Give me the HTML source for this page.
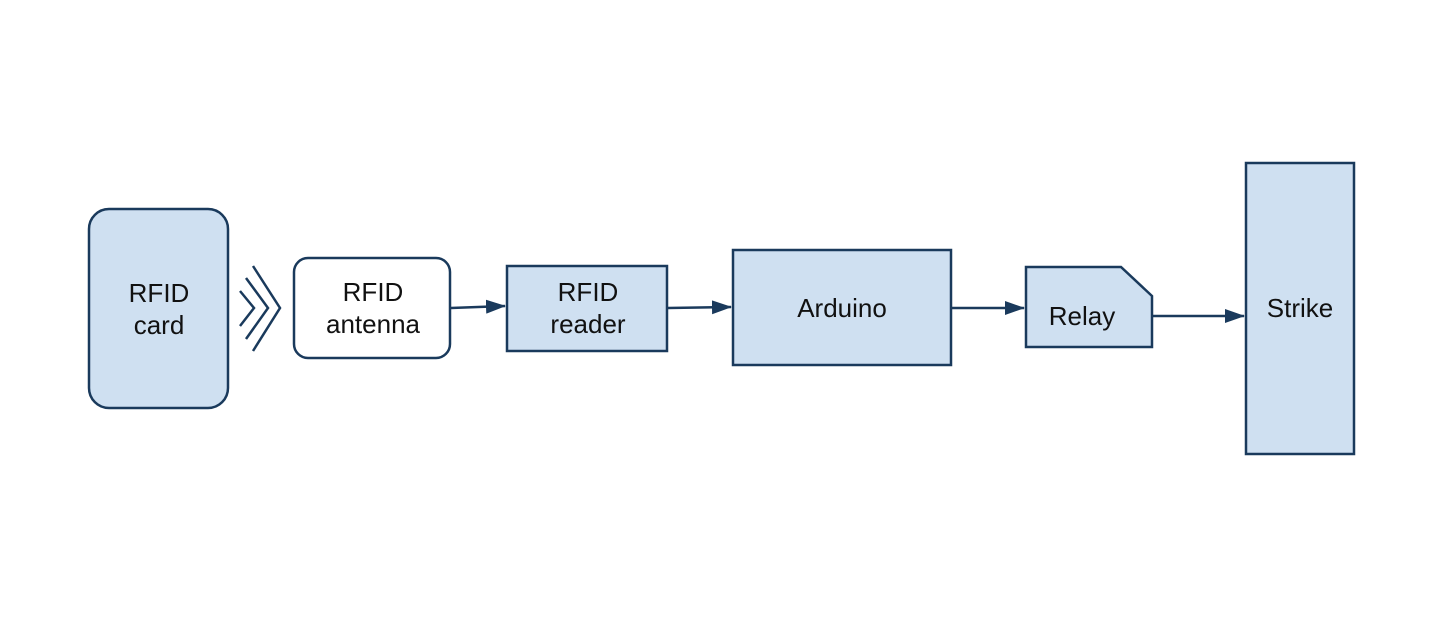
<!DOCTYPE html>
<html><head><meta charset="utf-8"><style>html,body{margin:0;padding:0;background:#fff}</style></head>
<body>
<svg width="1446" height="617" viewBox="0 0 1446 617" xmlns="http://www.w3.org/2000/svg">
<defs><marker id="b" markerWidth="20" markerHeight="14" refX="19" refY="7" orient="auto" markerUnits="userSpaceOnUse"><path d="M0,0 L20,7 L0,14 Z" fill="#1a3a5c"/></marker></defs>
<g stroke="#1a3a5c" stroke-width="2.5" fill="#cfe0f1">
<rect x="89" y="209" width="139" height="199" rx="20"/>
<rect x="294" y="258" width="156" height="100" rx="14" fill="#fff"/>
<rect x="507" y="266" width="160" height="85"/>
<rect x="733" y="250" width="218" height="115"/>
<path d="M1026,267 L1121,267 L1152,296 L1152,347 L1026,347 Z"/>
<rect x="1246" y="163" width="108" height="291"/>
</g>
<g stroke="#1a3a5c" stroke-width="2.5" fill="none">
<path d="M253,266 L280,308 L253,351"/>
<path d="M246,278 L268,308 L246,339"/>
<path d="M240,291 L254,308 L240,326"/>
<line x1="451" y1="308" x2="505" y2="306" marker-end="url(#b)"/>
<line x1="668" y1="308" x2="731" y2="307" marker-end="url(#b)"/>
<line x1="952" y1="308" x2="1024" y2="308" marker-end="url(#b)"/>
<line x1="1153" y1="316" x2="1244" y2="316" marker-end="url(#b)"/>
</g>
<g font-family="Liberation Sans, sans-serif" font-size="26" fill="#111" text-anchor="middle">
<text x="159" y="302">RFID</text><text x="159" y="334">card</text>
<text x="373" y="301">RFID</text><text x="373" y="333">antenna</text>
<text x="588" y="301">RFID</text><text x="588" y="333">reader</text>
<text x="842" y="317">Arduino</text>
<text x="1082" y="325">Relay</text>
<text x="1300" y="317">Strike</text>
</g>
</svg>
</body></html>
